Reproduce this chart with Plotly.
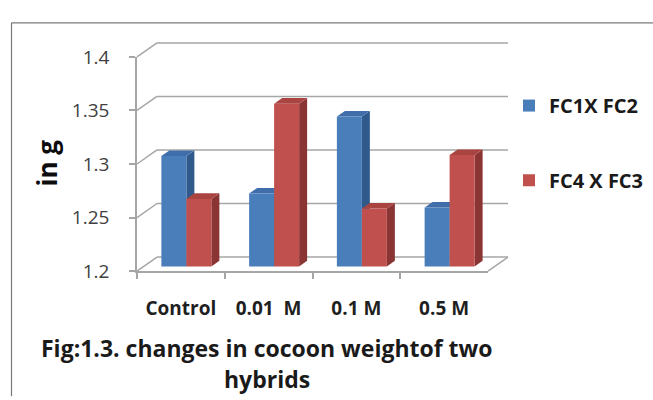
import plotly.graph_objects as go

# ---------------- data ----------------
categories = ["Control", "0.01\u00a0 M", "0.1 M", "0.5 M"]
series_names = ["FC1X FC2", "FC4 X FC3"]
fc1x_fc2 = [1.303, 1.268, 1.340, 1.255]
fc4x_fc3 = [1.263, 1.352, 1.254, 1.304]
y_tick_values = [1.2, 1.25, 1.3, 1.35, 1.4]
y_tick_labels = ["1.2", "1.25", "1.3", "1.35", "1.4"]
y_title = "in g"
caption_lines = ["Fig:1.3. changes in cocoon weightof two", "hybrids"]

# ---------------- styles / geometry ----------------
W, H = 653, 400
YMIN, YMAX = 1.2, 1.4
FX0, FX1 = 137, 488          # front plane x extent (px)
FYB, FYT = 276, 47           # front plane y of YMIN / YMAX (px)
BAR_OFF = (5.5, -5)          # bar plane offset from front plane (px)
BACK_OFF = (20, -15)         # back wall offset (px)
DEPTH = (8, -6)              # bar depth offset (px)
BAR_PX = 25                  # bar width (px)

FRONT = ["#4a7ebb", "#c0504d"]
SIDE = ["#30598c", "#8a3533"]
TOP = ["#3f6eaa", "#a94441"]
GRID = "#a6a6a6"
BORDER = "#7a7a7a"
FONT = "Open Sans"

n = len(categories)
idx = list(range(n))
cat_px = (FX1 - FX0) / n
data_per_px = (YMAX - YMIN) / (FYB - FYT)
bargap = 1 - 2 * BAR_PX / cat_px
w = (1 - bargap) / 2


def xdom(dx):
    return [(FX0 + dx) / W, (FX1 + dx) / W]


def ydom(dy):
    return [1 - (FYB + dy) / H, 1 - (FYT + dy) / H]


def pxx(x):
    return x / W


def pxy(y):
    return 1 - y / H


def val_py(v, dy=0):
    """paper y of value v on the front-plane scale, shifted by dy px"""
    return pxy(FYB - (v - YMIN) / data_per_px + dy)


fig = go.Figure()

# front-plane axes carrier (invisible)
fig.add_trace(go.Scatter(x=categories, y=[None] * n, xaxis="x", yaxis="y",
                         showlegend=False, hoverinfo="skip", mode="markers"))

series = [fc1x_fc2, fc4x_fc3]
for k, (name, vals) in enumerate(zip(series_names, series)):
    fig.add_trace(go.Bar(
        x=idx, y=vals, name=name, xaxis="x2", yaxis="y2",
        marker=dict(color=FRONT[k], line=dict(width=0)),
        legend="legend" if k == 0 else "legend2",
    ))

shapes = []
for v in y_tick_values:
    # back wall line
    shapes.append(dict(type="line", xref="paper", yref="paper",
                       x0=pxx(FX0 + BACK_OFF[0]), x1=pxx(FX1 + BACK_OFF[0]),
                       y0=val_py(v, BACK_OFF[1]), y1=val_py(v, BACK_OFF[1]),
                       line=dict(color=GRID, width=1.5), layer="below"))
    # left wall diagonal
    shapes.append(dict(type="line", xref="paper", yref="paper",
                       x0=pxx(FX0), y0=val_py(v),
                       x1=pxx(FX0 + BACK_OFF[0]), y1=val_py(v, BACK_OFF[1]),
                       line=dict(color=GRID, width=1.5), layer="below"))
# floor right edge
shapes.append(dict(type="line", xref="paper", yref="paper",
                   x0=pxx(FX1), y0=val_py(YMIN),
                   x1=pxx(FX1 + BACK_OFF[0]), y1=val_py(YMIN, BACK_OFF[1]),
                   line=dict(color=GRID, width=1.5), layer="below"))
# outer chart border (top and left edges visible)
shapes.append(dict(type="line", xref="paper", yref="paper",
                   x0=pxx(11.5), y0=pxy(10.5), x1=pxx(W + 10), y1=pxy(10.5),
                   line=dict(color=BORDER, width=1.2), layer="below"))
shapes.append(dict(type="line", xref="paper", yref="paper",
                   x0=pxx(11.5), y0=pxy(10.5), x1=pxx(11.5), y1=pxy(H + 10),
                   line=dict(color=BORDER, width=1.2), layer="below"))

# 3D side / top faces computed from data values in bar-plane axis units
ddx = DEPTH[0] / cat_px
ddy = -DEPTH[1] * data_per_px
for i in idx:
    for k, vals in enumerate(series):
        v = vals[i]
        left = i - w + k * w
        right = left + w
        side = (f"M{right},{YMIN} L{right},{v} L{right + ddx},{v + ddy} "
                f"L{right + ddx},{YMIN + ddy} Z")
        top = (f"M{left},{v} L{right},{v} L{right + ddx},{v + ddy} "
               f"L{left + ddx},{v + ddy} Z")
        for path, col in ((side, SIDE[k]), (top, TOP[k])):
            shapes.append(dict(type="path", path=path, xref="x2", yref="y2",
                               fillcolor=col, line=dict(width=0),
                               layer="below"))

fig.update_layout(
    width=W, height=H, autosize=False,
    margin=dict(l=0, r=0, t=0, b=0),
    paper_bgcolor="white", plot_bgcolor="rgba(0,0,0,0)",
    barmode="group", bargap=bargap, bargroupgap=0,
    xaxis=dict(domain=xdom(0), type="category", categoryorder="array",
               categoryarray=categories, range=[-0.5, n - 0.5],
               showline=True, linecolor=GRID, linewidth=1.5,
               ticks="outside", tickson="boundaries", ticklen=6,
               tickcolor=GRID, tickwidth=1.5, showgrid=False, zeroline=False,
               tickfont=dict(family=FONT, size=19, color="#1f1f1f",
                             weight="bold"),
               ticklabelstandoff=19),
    yaxis=dict(domain=ydom(0), range=[YMIN, YMAX], tickmode="array",
               tickvals=y_tick_values, ticktext=y_tick_labels,
               showline=True, linecolor=GRID, linewidth=1.5,
               ticks="outside", ticklen=6, tickcolor=GRID, tickwidth=1.5,
               showgrid=False, zeroline=False,
               tickfont=dict(family=FONT, size=19, color="#404040"),
               ticklabelstandoff=16),
    xaxis2=dict(domain=xdom(BAR_OFF[0]), range=[-0.5, n - 0.5],
                anchor="y2", visible=False, showgrid=False, zeroline=False),
    yaxis2=dict(domain=ydom(BAR_OFF[1]), range=[YMIN, YMAX],
                anchor="x2", visible=False, showgrid=False, zeroline=False),
    legend=dict(x=pxx(509), y=pxy(99), xanchor="left", yanchor="middle",
                bgcolor="rgba(0,0,0,0)", borderwidth=0,
                font=dict(family=FONT, size=20, color="#1a1a1a",
                          weight="bold")),
    legend2=dict(x=pxx(509), y=pxy(179), xanchor="left", yanchor="middle",
                 bgcolor="rgba(0,0,0,0)", borderwidth=0,
                 font=dict(family=FONT, size=20, color="#1a1a1a",
                           weight="bold")),
    shapes=shapes,
    showlegend=True,
)

fig.add_annotation(text=y_title, textangle=-90, xref="paper", yref="paper",
                   x=pxx(47), y=pxy(161), xanchor="center", yanchor="middle",
                   showarrow=False,
                   font=dict(family=FONT, size=26, color="#0d0d0d",
                             weight="bold"))
for line, ypix in zip(caption_lines, [358, 391]):
    fig.add_annotation(text=line, xref="paper", yref="paper",
                       x=pxx(267), y=pxy(ypix), showarrow=False,
                       xanchor="center", yanchor="middle",
                       font=dict(family=FONT, size=23, color="#1a1a1a",
                                 weight="bold"))

fig.write_html("out.html")
